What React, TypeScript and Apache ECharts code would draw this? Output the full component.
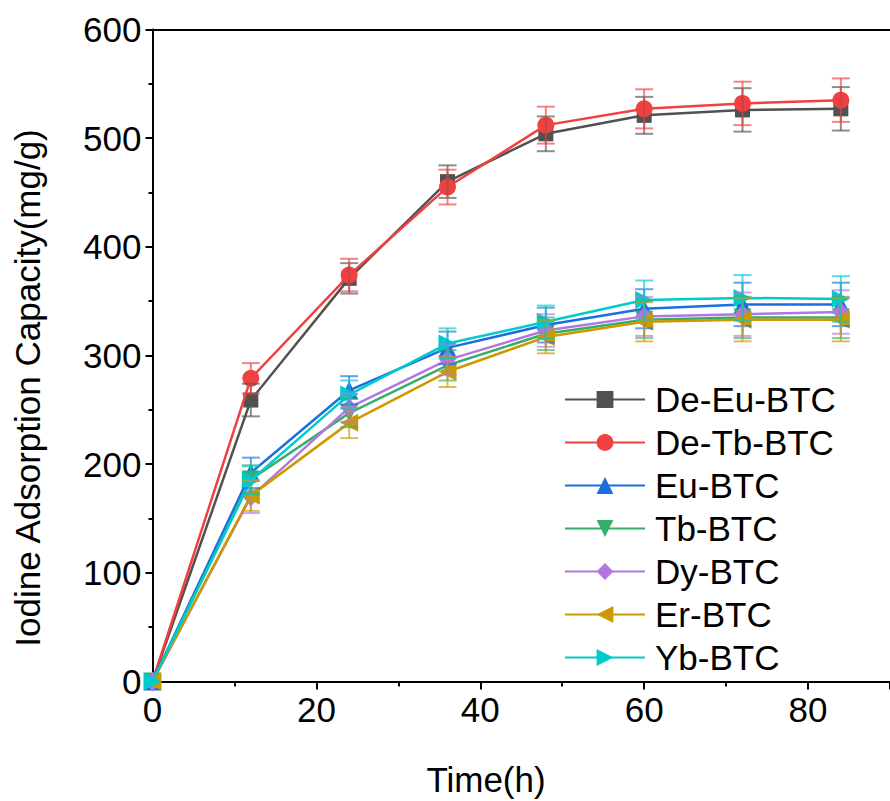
import React, { useEffect, useRef } from "react";
import * as echarts from "echarts";

const times = [0, 12, 24, 36, 48, 60, 72, 84];
const seriesNames = ["De-Eu-BTC", "De-Tb-BTC", "Eu-BTC", "Tb-BTC", "Dy-BTC", "Er-BTC", "Yb-BTC"];
const deEu = [0, 259, 371, 460, 504, 521, 526, 527];
const deTb = [0, 279, 374, 455, 512, 527, 532, 535];
const eu = [0, 192, 268, 307, 328, 343, 347, 347];
const tb = [0, 186, 247, 291, 320, 333, 335, 335];
const dy = [0, 170, 252, 296, 323, 336, 338, 340];
const er = [0, 171, 238, 285, 317, 331, 333, 333];
const yb = [0, 185, 264, 311, 331, 351, 353, 352];
const deEuErr = [0, 15, 14, 15, 16, 17, 20, 20];
const deTbErr = [0, 14, 15, 16, 17, 18, 20, 20];
const euErr = [0, 14, 13, 15, 16, 18, 20, 20];
const tbErr = [0, 13, 13, 14, 15, 17, 19, 19];
const dyErr = [0, 15, 13, 14, 15, 18, 20, 20];
const erErr = [0, 14, 14, 14, 15, 18, 20, 20];
const ybErr = [0, 13, 13, 14, 15, 18, 21, 21];
const xTicks = { min: 0, max: 90, interval: 20 };
const yTicks = { min: 0, max: 600, interval: 100 };

const colors = ["#515151", "#F14040", "#1A6FDF", "#37AD6B", "#B177DE", "#CC9900", "#00CBCC"];
const symbols = [
  "rect",
  "circle",
  "triangle",
  "path://M0,0 L10,0 L5,9 Z",
  "diamond",
  "path://M0,5 L9,0 L9,10 Z",
  "path://M9,5 L0,0 L0,10 Z",
];
const symbolSizes: any[] = [15, 17, 18, 18, [16, 20], 18, 18];
const values = [deEu, deTb, eu, tb, dy, er, yb];
const errs = [deEuErr, deTbErr, euErr, tbErr, dyErr, erErr, ybErr];

const FONT = "'Liberation Sans', Arial, sans-serif";
const FS = 35;

function rgba(hex: string, a: number) {
  const n = parseInt(hex.slice(1), 16);
  return `rgba(${(n >> 16) & 255},${(n >> 8) & 255},${n & 255},${a})`;
}

export default function App() {
  const ref = useRef<HTMLDivElement>(null);
  useEffect(() => {
    if (!ref.current) return;
    const chart = echarts.init(ref.current, null, { renderer: "svg" });
    const lineSeries = seriesNames.map((name, i) => ({
      type: "line",
      name,
      data: times.map((t, j) => [t, values[i][j]]),
      symbol: symbols[i],
      symbolSize: symbolSizes[i],
      showAllSymbol: true,
      lineStyle: { color: colors[i], width: 2.5 },
      itemStyle: { color: colors[i] },
      z: 2 + i * 0.01,
    }));
    const errSeries = seriesNames.map((name, i) => {
      const stroke = rgba(colors[i], 0.65);
      return {
        type: "custom",
        name: name + "-err",
        data: times.map((t, j) => [t, values[i][j] - errs[i][j], values[i][j] + errs[i][j], errs[i][j]]),
        encode: { x: 0, y: [1, 2] },
        z: 3,
        renderItem: (params: any, api: any) => {
          if (api.value(3) === 0) return null;
          const x = api.value(0);
          const p1 = api.coord([x, api.value(2)]);
          const p2 = api.coord([x, api.value(1)]);
          const w = 9;
          const style = { stroke, lineWidth: 2, fill: "none" };
          return {
            type: "group",
            children: [
              { type: "line", shape: { x1: p1[0], y1: p1[1], x2: p2[0], y2: p2[1] }, style },
              { type: "line", shape: { x1: p1[0] - w, y1: p1[1], x2: p1[0] + w, y2: p1[1] }, style },
              { type: "line", shape: { x1: p2[0] - w, y1: p2[1], x2: p2[0] + w, y2: p2[1] }, style },
            ],
          };
        },
      };
    });
    const option: any = {
      animation: false,
      backgroundColor: "#fff",
      textStyle: { fontFamily: FONT },
      grid: { left: 152.5, top: 29.5, bottom: 119.5, right: -9, containLabel: false },
      legend: {
        data: seriesNames,
        orient: "vertical",
        left: 564,
        top: 382,
        padding: 0,
        itemGap: 8,
        itemWidth: 80,
        itemHeight: 21,
        textStyle: { fontSize: FS, color: "#000", fontFamily: FONT, padding: [0, 0, 0, 5] },
      },
      xAxis: [
        {
          type: "value",
          min: xTicks.min,
          max: xTicks.max,
          interval: xTicks.interval,
          axisLine: { show: true, lineStyle: { color: "#000", width: 2 } },
          axisTick: { show: true, inside: false, length: 8, lineStyle: { color: "#000", width: 2 } },
          minorTick: { show: true, splitNumber: 2, length: 5, lineStyle: { color: "#000", width: 2 } },
          splitLine: { show: false },
          axisLabel: { fontSize: FS, color: "#000", margin: 10, showMaxLabel: false, fontFamily: FONT },
        },
        {
          type: "value",
          position: "top",
          min: xTicks.min,
          max: xTicks.max,
          axisLine: { show: true, lineStyle: { color: "#000", width: 2 } },
          axisTick: { show: false },
          axisLabel: { show: false },
          splitLine: { show: false },
        },
      ],
      yAxis: {
        type: "value",
        min: yTicks.min,
        max: yTicks.max,
        interval: yTicks.interval,
        axisLine: { show: true, lineStyle: { color: "#000", width: 2 } },
        axisTick: { show: true, inside: false, length: 7, lineStyle: { color: "#000", width: 2 } },
        minorTick: { show: true, splitNumber: 2, length: 4, lineStyle: { color: "#000", width: 2 } },
        splitLine: { show: false },
        axisLabel: { fontSize: FS, color: "#000", margin: 11, fontFamily: FONT },
      },
      graphic: [
        {
          type: "text",
          x: 27,
          y: 388,
          rotation: Math.PI / 2,
          style: {
            text: "Iodine Adsorption Capacity(mg/g)",
            fontSize: FS,
            fontFamily: FONT,
            fill: "#000",
            textAlign: "center",
            textVerticalAlign: "middle",
          },
        },
        {
          type: "text",
          x: 486,
          y: 779,
          style: {
            text: "Time(h)",
            fontSize: FS,
            fontFamily: FONT,
            fill: "#000",
            textAlign: "center",
            textVerticalAlign: "middle",
          },
        },
      ],
      series: [...lineSeries, ...errSeries],
    };
    chart.setOption(option);
    return () => chart.dispose();
  }, []);
  return (
    <div
      ref={ref}
      style={{ position: "fixed", left: 0, top: 0, width: 890, height: 801, background: "#fff" }}
    />
  );
}
